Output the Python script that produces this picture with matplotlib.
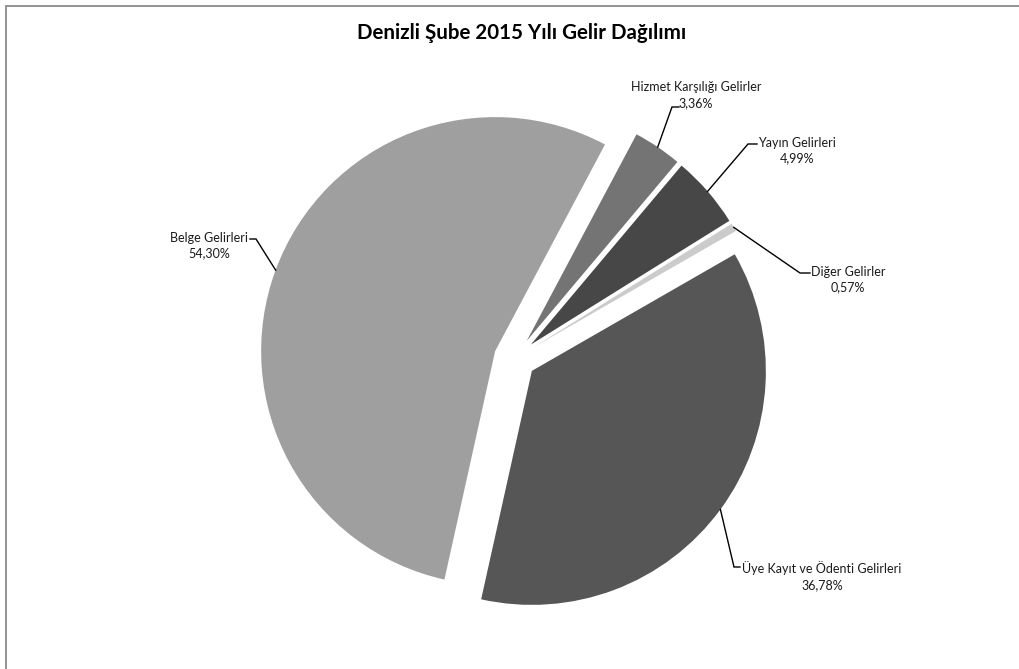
import matplotlib
matplotlib.use("Agg")
import matplotlib.pyplot as plt
import numpy as np
from matplotlib.patches import Rectangle

kategori = ["Hizmet Karşılığı Gelirler", "Yayın Gelirleri", "Diğer Gelirler",
            "Üye Kayıt ve Ödenti Gelirleri", "Belge Gelirleri"]
oran = [3.36, 4.99, 0.57, 36.78, 54.30]
etiket_oran = ["3,36%", "4,99%", "0,57%", "36,78%", "54,30%"]
renk = ["#747474", "#474747", "#cbcbcb", "#565656", "#9f9f9f"]

# pixel layout of the reference
W, H = 1020, 669
cx, cy, R = 514.9, 358.4, 234.0

def px(x, y):
    return ((x - cx) / R, (cy - y) / R)

# label centres and leader start/corner (pixels)
etiket_yer = [(696, 95), (797, 150.5), (848, 279.5), (822, 576), (209, 245.5)]
kol_bas = [[(679, 107), (672, 107)],
           [(757, 144), (748, 144)],
           [(810, 273), (800, 273)],
           [(740, 567), (734, 567)],
           [(250, 239), (256, 239)]]

plt.rcParams['font.family'] = ['Lato', 'DejaVu Sans']

fig = plt.figure(figsize=(W / 100, H / 100), dpi=100)
ax = fig.add_axes([0, 0, 1, 1])

wedges, _ = ax.pie(oran, colors=renk, startangle=62, counterclock=False,
                   explode=[0.09] * 5, radius=1.0,
                   wedgeprops=dict(linewidth=0))
ax.set_aspect('auto')
ax.set_xlim(-cx / R, (W - cx) / R)
ax.set_ylim(-(H - cy) / R, cy / R)
ax.axis('off')

for w, ad, yuz, (lx, ly), kol in zip(wedges, kategori, etiket_oran, etiket_yer, kol_bas):
    tm = np.deg2rad((w.theta1 + w.theta2) / 2)
    ex = w.center[0] + w.r * np.cos(tm)
    ey = w.center[1] + w.r * np.sin(tm)
    pts = [px(*p) for p in kol] + [(ex, ey)]
    ax.plot([p[0] for p in pts], [p[1] for p in pts], color="black", lw=1.0,
            solid_joinstyle="miter")
    tx, ty = px(lx, ly)
    ax.text(tx, ty, ad + "\n" + yuz, ha="center", va="center", fontsize=9,
            linespacing=1.35, color="#1a1a1a")

tx, ty = px(522, 33)
ax.text(tx, ty, "Denizli Şube 2015 Yılı Gelir Dağılımı", ha="center", va="center",
        fontsize=14.8, fontweight="bold", color="black")

# chart frame (only left and top edge inside the picture)
fig.patches.append(Rectangle((6 / W, -0.1), 1.2, (H - 6) / H + 0.1,
                             transform=fig.transFigure, fill=False,
                             edgecolor="#8a8a8a", linewidth=1.3))

fig.savefig("out.png", dpi=100, facecolor="white")
